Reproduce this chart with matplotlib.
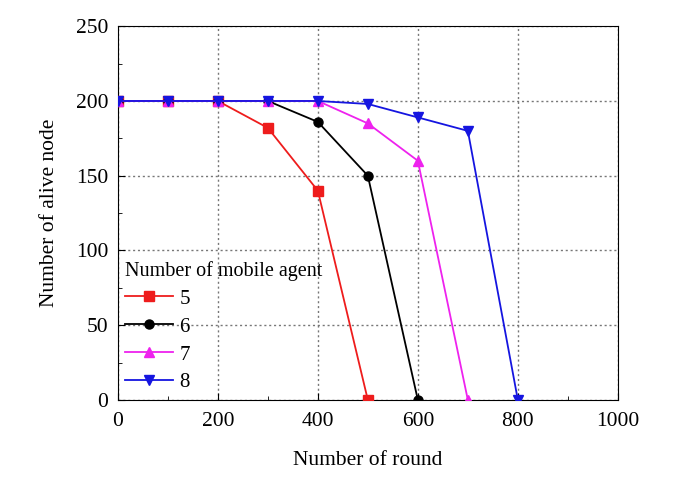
import matplotlib.pyplot as plt
from matplotlib.ticker import MultipleLocator

plt.rcParams['font.family'] = ['Liberation Serif', 'DejaVu Serif']

rounds = [0, 100, 200, 300, 400, 500, 600, 700, 800]
agents = ['5', '6', '7', '8']
alive_5 = [200, 200, 200, 182, 140, 0]
alive_6 = [200, 200, 200, 200, 186, 150, 0]
alive_7 = [200, 200, 200, 200, 200, 185, 160, 0]
alive_8 = [200, 200, 200, 200, 200, 198, 189, 180, 0]

series = [alive_5, alive_6, alive_7, alive_8]
colors = ['#ee1c1c', 'black', '#ee22ee', '#1515e0']
markers = ['s', 'o', '^', 'v']

fig = plt.figure(figsize=(6.85, 4.95), dpi=100)
ax = fig.add_axes([0.172, 0.192, 0.73, 0.755])

for name, vals, c, m in zip(agents, series, colors, markers):
    ax.plot(rounds[:len(vals)], vals, color=c, marker=m, markersize=6.5,
            linewidth=1.3, label=name, zorder=3)

ax.set_xlim(0, 1000)
ax.set_ylim(0, 250)
ax.xaxis.set_major_locator(MultipleLocator(200))
ax.xaxis.set_minor_locator(MultipleLocator(100))
ax.yaxis.set_major_locator(MultipleLocator(50))
ax.yaxis.set_minor_locator(MultipleLocator(25))
ax.tick_params(which='both', direction='in', labelsize=15.5)
ax.tick_params(axis='y', which='major', length=5, pad=7)
ax.tick_params(axis='x', which='major', length=5, pad=9)
ax.tick_params(which='minor', length=3)
ax.grid(True, which='major', linestyle=(0, (1.5, 2)), color='#777777', linewidth=1)

ax.set_xlabel('Number of round', fontsize=15.5, labelpad=14)
ax.set_ylabel('Number of alive node', fontsize=15.5, labelpad=12)

leg = ax.legend(title='Number of mobile agent', loc='lower left',
                bbox_to_anchor=(-0.023, -0.03), frameon=False, fontsize=15,
                title_fontsize=14.5, handlelength=2.3, handletextpad=0.3,
                labelspacing=0.4, alignment='left')

fig.savefig('out.png', dpi=100)
